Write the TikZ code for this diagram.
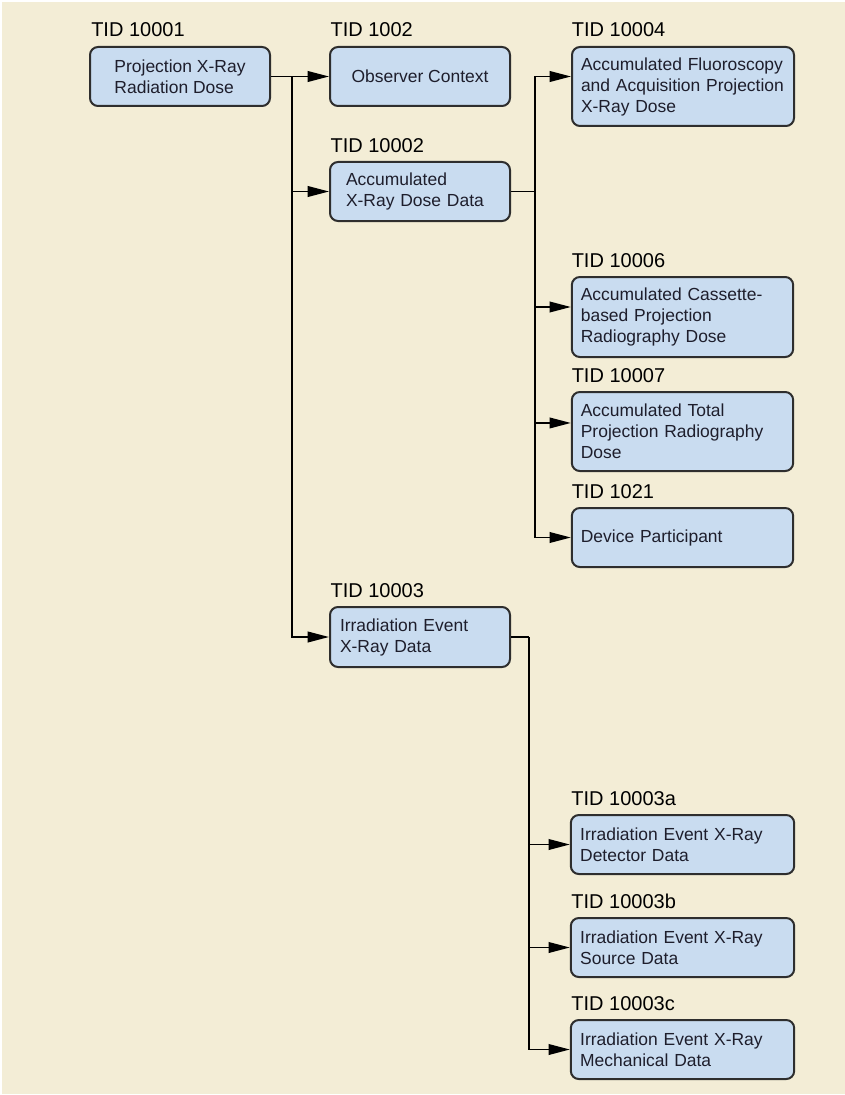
\documentclass[tikz,border=0pt]{standalone}
\usepackage{fontspec}
\setmainfont{Liberation Sans}
\usetikzlibrary{arrows.meta}
\definecolor{bgcream}{HTML}{F3EDD6}
\definecolor{boxfill}{HTML}{C9DCF0}
\definecolor{boxline}{HTML}{2E2E2E}
\definecolor{txtdark}{HTML}{1E1E2C}
\tikzset{
  tidbox/.style={draw=boxline, fill=boxfill, line width=1.5pt, rounded corners=6pt,
    inner ysep=0pt, align=left, text=txtdark,
    font=\fontsize{13.1}{15.75}\selectfont},
  tidlabel/.style={anchor=base west, inner sep=0pt, text=black,
    font=\fontsize{15}{18}\selectfont},
  conn/.style={draw=black, line width=1.3pt, -{Triangle[length=16pt,width=8pt]}},
  plainline/.style={draw=black, line width=1.3pt},
}
\begin{document}
\begin{tikzpicture}[x=0.75pt, y=-0.75pt]
\useasboundingbox (0,0) rectangle (845,1095);
\fill[white] (0,0) rectangle (845,1095);
\fill[bgcream] (2,2) rectangle (845,1094);

% left column
\node[tidbox, minimum width=135pt, minimum height=44.25pt] (n10001) at (180,76.5)
  {Projection X-Ray\\Radiation Dose};
% middle column
\node[tidbox, minimum width=135pt, minimum height=44.25pt] (n1002) at (420,76.5)
  {Observer Context};
\node[tidbox, text width=111pt, inner xsep=12pt, minimum height=44.25pt] (n10002) at (420,191.5)
  {Accumulated\\X-Ray Dose Data};
\node[tidbox, text width=120pt, inner xsep=7.5pt, minimum height=45pt] (n10003) at (420,637)
  {Irradiation Event\\X-Ray Data};
% right column
\node[tidbox, text width=153pt, inner xsep=6.75pt, minimum height=59.25pt] (n10004) at (683,86.5)
  {Accumulated Fluoroscopy\\and Acquisition Projection\\X-Ray Dose};
\node[tidbox, text width=152.5pt, inner xsep=6.75pt, minimum height=60pt] (n10006) at (682.5,317)
  {Accumulated Cassette-\\based Projection\\Radiography Dose};
\node[tidbox, text width=152.5pt, inner xsep=6.75pt, minimum height=59.25pt] (n10007) at (682.5,431.5)
  {Accumulated Total\\Projection Radiography\\Dose};
\node[tidbox, text width=152.5pt, inner xsep=6.75pt, minimum height=44.25pt] (n1021) at (682.5,537.5)
  {Device Participant};
\node[tidbox, text width=153.5pt, inner xsep=7pt, minimum height=44.25pt] (n10003a) at (682.5,844.5)
  {Irradiation Event X-Ray\\Detector Data};
\node[tidbox, text width=153.5pt, inner xsep=7pt, minimum height=44.25pt] (n10003b) at (682.5,947.5)
  {Irradiation Event X-Ray\\Source Data};
\node[tidbox, text width=153.5pt, inner xsep=7pt, minimum height=44.25pt] (n10003c) at (682.5,1049.5)
  {Irradiation Event X-Ray\\Mechanical Data};

% labels
\node[tidlabel] (l10001) at ([xshift=1.5pt,yshift=6.75pt]n10001.north west) {TID 10001};
\node[tidlabel] (l1002) at ([xshift=1pt,yshift=6.75pt]n1002.north west) {TID 1002};
\node[tidlabel] (l10002) at ([xshift=1pt,yshift=6.75pt]n10002.north west) {TID 10002};
\node[tidlabel] (l10003) at ([xshift=1pt,yshift=6.75pt]n10003.north west) {TID 10003};
\node[tidlabel] (l10004) at ([xshift=0.5pt,yshift=6.75pt]n10004.north west) {TID 10004};
\node[tidlabel] (l10006) at ([xshift=0.5pt,yshift=6.25pt]n10006.north west) {TID 10006};
\node[tidlabel] (l10007) at ([xshift=0.5pt,yshift=6.25pt]n10007.north west) {TID 10007};
\node[tidlabel] (l1021) at ([xshift=0.5pt,yshift=6.25pt]n1021.north west) {TID 1021};
\node[tidlabel] (l10003a) at ([xshift=1pt,yshift=6.75pt]n10003a.north west) {TID 10003a};
\node[tidlabel] (l10003b) at ([xshift=1pt,yshift=6.75pt]n10003b.north west) {TID 10003b};
\node[tidlabel] (l10003c) at ([xshift=1pt,yshift=6.75pt]n10003c.north west) {TID 10003c};

% junctions
\coordinate (j1) at (292,76.5);
\coordinate (j2) at (535,191.5);
\coordinate (j3) at (529,637);

% connectors
\draw[conn] (n10001.east) -- (n1002.west);
\draw[conn] (j1) |- (n10002.west);
\draw[conn] (j1) |- (n10003.west);

\draw[plainline] (n10002.east) -- (j2);
\draw[conn] (j2) |- (n10004.west |- n1002.west);
\draw[conn] (j2) |- ([yshift=7.5pt]n10006.west);
\draw[conn] (j2) |- ([yshift=6.4pt]n10007.west);
\draw[conn] (j2) |- (n1021.west);

\draw[plainline] (n10003.east) -- (j3);
\draw[conn] (j3) |- (n10003a.west);
\draw[conn] (j3) |- (n10003b.west);
\draw[conn] (j3) |- (n10003c.west);
\end{tikzpicture}
\end{document}
